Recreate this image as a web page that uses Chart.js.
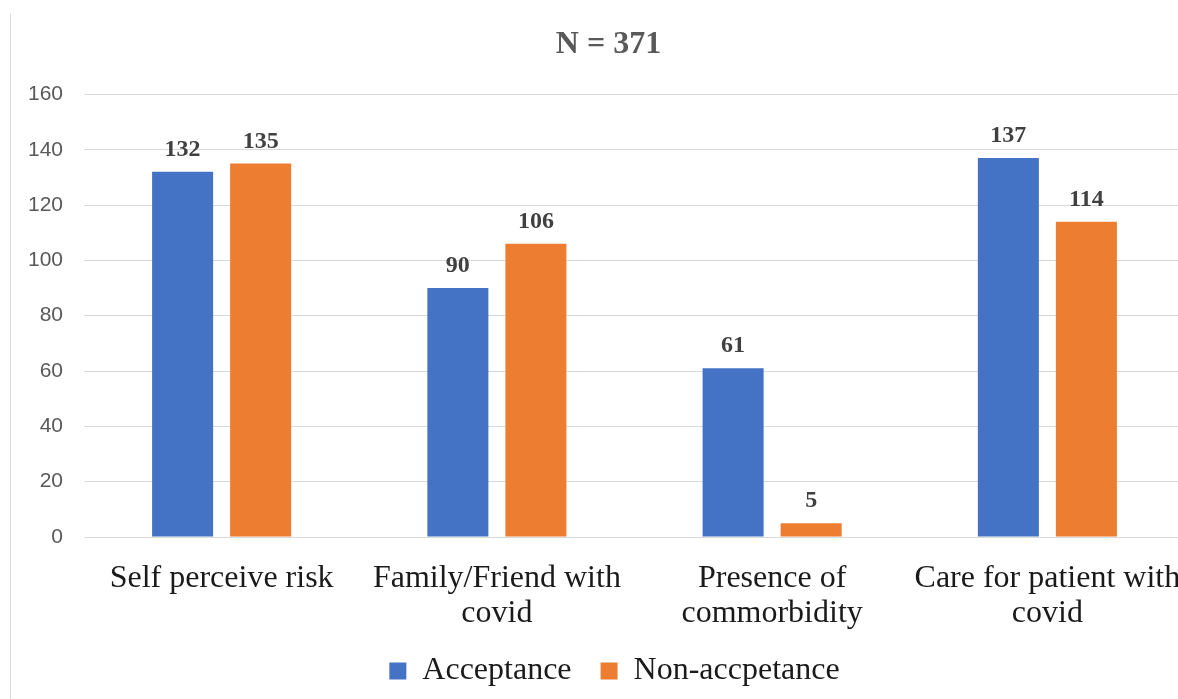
<!DOCTYPE html>
<html>
<head>
<meta charset="utf-8">
<script src="https://cdn.jsdelivr.net/npm/chart.js@4.4.1/dist/chart.umd.min.js"></script>
<style>
  html, body { margin: 0; padding: 0; background: #ffffff; overflow: hidden; }
  #frame { position: absolute; left: 10px; top: 14px; bottom: 0; width: 0; border-left: 1px solid #d9d9d9; }
  #wrap { position: absolute; left: 0; top: 0; width: 1222px; height: 699px; }
</style>
</head>
<body>
<div id="frame"></div>
<div id="wrap"><canvas id="chart"></canvas></div>
<script>
// Risk factors by vaccine acceptance
const categories = [
  ['Self perceive risk'],
  ['Family/Friend with', 'covid'],
  ['Presence of', 'commorbidity'],
  ['Care for patient with', 'covid']
];
const acceptance = [132, 90, 61, 137];
const nonAcceptance = [135, 106, 5, 114];
const seriesNames = ['Acceptance', 'Non-accpetance'];
const chartTitle = 'N = 371';
const yTicks = [0, 20, 40, 60, 80, 100, 120, 140, 160];

const BLUE = '#4472C4';
const ORANGE = '#ED7D31';
const SERIF = '"Liberation Serif", "Times New Roman", serif';

// Bold value labels above each bar
const valueLabels = {
  id: 'valueLabels',
  afterDatasetsDraw(chart) {
    const ctx = chart.ctx;
    ctx.save();
    ctx.font = 'bold 24px ' + SERIF;
    ctx.fillStyle = '#404040';
    ctx.textAlign = 'center';
    ctx.textBaseline = 'alphabetic';
    chart.data.datasets.forEach((ds, di) => {
      const meta = chart.getDatasetMeta(di);
      meta.data.forEach((bar, i) => {
        ctx.fillText(String(ds.data[i]), bar.x, bar.y - 16);
      });
    });
    ctx.restore();
  }
};

// Centre the title and legend on the whole figure rather than the padded box,
// and let the two-line category labels overhang the axis box without clipping
const centreBoxes = {
  id: 'centreBoxes',
  afterLayout(chart) {
    const shift = (box, dx) => {
      if (!box) return;
      box.left += dx;
      box.right += dx;
    };
    shift(chart.titleBlock, 16);
    shift(chart.legend, 22);
    if (chart.scales.x) chart.scales.x.bottom += 16;
  }
};

new Chart(document.getElementById('chart'), {
  type: 'bar',
  data: {
    labels: categories,
    datasets: [
      { label: seriesNames[0], data: acceptance, backgroundColor: BLUE },
      { label: seriesNames[1], data: nonAcceptance, backgroundColor: ORANGE }
    ]
  },
  options: {
    responsive: true,
    maintainAspectRatio: false,
    animation: false,
    layout: { padding: { left: 0, right: 37, top: 0, bottom: 2 } },
    datasets: {
      bar: { categoryPercentage: 0.567, barPercentage: 0.782 }
    },
    scales: {
      x: {
        grid: { display: false },
        border: { display: false },
        ticks: {
          color: '#1a1a1a',
          font: { family: SERIF, size: 32, lineHeight: 1.1 },
          padding: 16,
          maxRotation: 0,
          autoSkip: false
        },
        afterFit(scale) { scale.height = 89; }
      },
      y: {
        min: 0,
        max: 160,
        afterBuildTicks(scale) { scale.ticks = yTicks.map(v => ({ value: v })); },
        grid: { color: '#d9d9d9', lineWidth: 1, drawTicks: false },
        border: { display: false },
        ticks: {
          color: '#595959',
          font: { family: '"Liberation Sans", Arial, sans-serif', size: 21 },
          padding: 21
        },
        afterFit(scale) { scale.width = 84; }
      }
    },
    plugins: {
      title: {
        display: true,
        text: chartTitle,
        color: '#595959',
        font: { family: SERIF, size: 32, weight: 'bold', lineHeight: 1.2 },
        padding: { top: 26, bottom: 30 }
      },
      legend: {
        position: 'bottom',
        labels: {
          color: '#1a1a1a',
          font: { family: SERIF, size: 32, lineHeight: 1 },
          boxWidth: 17,
          boxHeight: 17,
          padding: 29
        }
      },
      tooltip: { enabled: false }
    }
  },
  plugins: [valueLabels, centreBoxes]
});
</script>
</body>
</html>
